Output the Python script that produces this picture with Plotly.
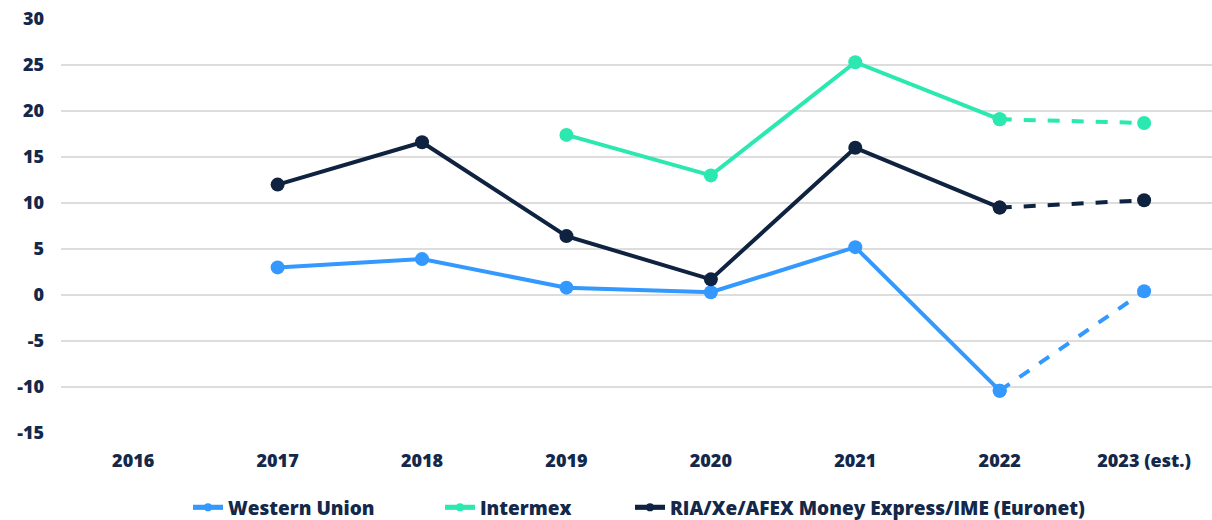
import plotly.graph_objects as go

years = ["2016", "2017", "2018", "2019", "2020", "2021", "2022", "2023 (est.)"]
western_union = [None, 3.0, 3.9, 0.8, 0.3, 5.2, -10.4, 0.4]
intermex = [None, None, None, 17.4, 13.0, 25.3, 19.1, 18.7]
euronet = [None, 12.0, 16.6, 6.4, 1.7, 16.0, 9.5, 10.3]
y_ticks = [30, 25, 20, 15, 10, 5, 0, -5, -10, -15]

W, H = 1212, 520
series = [
    ("Western Union", western_union, "#3399FF", "legend", 188),
    ("Intermex", intermex, "#2BE8B0", "legend2", 440),
    ("RIA/Xe/AFEX Money Express/IME (Euronet)", euronet, "#0F2340", "legend3", 630),
]

font_color = "#13284A"
fig = go.Figure()
layout_legends = {}
for name, vals, color, lg, lx in series:
    solid = vals[:-1] + [None]
    dashed = [None] * (len(vals) - 2) + vals[-2:]
    fig.add_trace(go.Scatter(x=years, y=solid, name=name, mode="lines+markers",
                             line=dict(color=color, width=4),
                             marker=dict(color=color, size=14),
                             showlegend=False, connectgaps=False))
    fig.add_trace(go.Scatter(x=years, y=dashed, name=name, mode="lines+markers",
                             line=dict(color=color, width=4, dash="dash"),
                             marker=dict(color=color, size=14),
                             showlegend=False))
    fig.add_trace(go.Scatter(x=[None], y=[None], name=name, mode="lines+markers",
                             line=dict(color=color, width=5),
                             marker=dict(color=color, size=8),
                             showlegend=True, legend=lg))
    layout_legends[lg] = dict(
        orientation="h", xref="container", yref="container",
        x=lx / W, xanchor="left", y=0.024, yanchor="middle",
        bgcolor="rgba(0,0,0,0)",
        font=dict(family="Open Sans", size=19, color=font_color, weight=800),
    )

fig.update_layout(
    width=W, height=H,
    margin=dict(l=60.5, r=0, t=18.5, b=87.3, autoexpand=False),
    paper_bgcolor="white", plot_bgcolor="white",
    font=dict(family="Open Sans", size=18, color=font_color),
    showlegend=True,
    xaxis=dict(type="category", range=[-0.5, 7.47], showgrid=False, zeroline=False,
               showline=False, ticks="", tickfont=dict(size=18, weight=800),
               ticklabelstandoff=15, automargin=False),
    yaxis=dict(range=[-15, 30], tickvals=y_ticks, ticktext=[str(v) for v in y_ticks],
               showgrid=True, gridcolor="#DDDDDD", gridwidth=2,
               zeroline=False, showline=False, ticks="",
               tickfont=dict(size=18, weight=800), ticklabelstandoff=16,
               automargin=False),
    **layout_legends,
)

fig.write_html("out.html", config={"displayModeBar": False},
               post_script="document.body.style.margin='0';document.body.style.overflow='hidden';")
